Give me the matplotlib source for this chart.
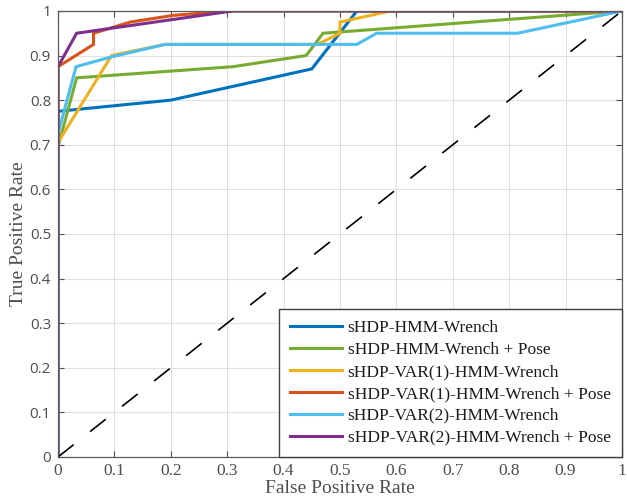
import numpy as np
from matplotlib import pyplot as plt

# ROC points (FPR, TPR)
fpr_hmm_w = [0, 0, 0.2, 0.45, 0.53, 1]
tpr_hmm_w = [0, 0.775, 0.8, 0.87, 1, 1]

fpr_hmm_wp = [0, 0, 0.033, 0.31, 0.44, 0.47, 1]
tpr_hmm_wp = [0, 0.695, 0.85, 0.875, 0.9, 0.95, 1]

fpr_var1_w = [0, 0, 0.095, 0.19, 0.46, 0.5, 0.5, 0.59, 1]
tpr_var1_w = [0, 0.705, 0.9, 0.925, 0.925, 0.95, 0.975, 1, 1]

fpr_var1_wp = [0, 0, 0.063, 0.063, 0.128, 0.204, 0.305, 1]
tpr_var1_wp = [0, 0.875, 0.925, 0.95, 0.975, 0.99, 1, 1]

fpr_var2_w = [0, 0, 0.032, 0.095, 0.19, 0.53, 0.565, 0.815, 1]
tpr_var2_w = [0, 0.725, 0.875, 0.897, 0.925, 0.925, 0.95, 0.95, 1]

fpr_var2_wp = [0, 0, 0.033, 0.31, 1]
tpr_var2_wp = [0, 0.875, 0.95, 1, 1]

labels = ['sHDP-HMM-Wrench', 'sHDP-HMM-Wrench + Pose', 'sHDP-VAR(1)-HMM-Wrench',
          'sHDP-VAR(1)-HMM-Wrench + Pose', 'sHDP-VAR(2)-HMM-Wrench',
          'sHDP-VAR(2)-HMM-Wrench + Pose']
colors = ['#0072BD', '#77AC30', '#EDB120', '#D95319', '#4DBEEE', '#7E2F8E']

curves = [(fpr_hmm_w, tpr_hmm_w), (fpr_hmm_wp, tpr_hmm_wp), (fpr_var1_w, tpr_var1_w),
          (fpr_var1_wp, tpr_var1_wp), (fpr_var2_w, tpr_var2_w), (fpr_var2_wp, tpr_var2_wp)]

serif = 'Liberation Serif'

fig = plt.figure(figsize=(6.27, 4.97), dpi=100)
ax = fig.add_axes([0.0925, 0.0805, 0.8995, 0.8975])

for (x, y), c, lab in zip(curves, colors, labels):
    ax.plot(x, y, color=c, lw=2.2, label=lab, solid_joinstyle='miter')

diag, = ax.plot([0, 1], [0, 1], color='black', lw=1.2)
diag.set_dashes((12, 12.5))

ax.set_xlim(0, 1)
ax.set_ylim(0, 1)
ticks = np.arange(0, 1.01, 0.1)
ax.set_xticks(ticks)
ax.set_yticks(ticks)
ax.set_xticklabels(['0', '0.1', '0.2', '0.3', '0.4', '0.5', '0.6', '0.7', '0.8', '0.9', '1'],
                   fontfamily=serif, fontsize=12.5, color='#4d4d4d')
ax.set_yticklabels(['0', '0.1', '0.2', '0.3', '0.4', '0.5', '0.6', '0.7', '0.8', '0.9', '1'],
                   fontfamily='Open Sans', fontsize=11, color='#4d4d4d')
ax.tick_params(direction='in', top=True, right=True, length=4.5, width=0.8, color='#4d4d4d')
ax.tick_params(axis='y', pad=5)
ax.tick_params(axis='x', pad=4)
ax.grid(True, color='#e0e0e0', lw=0.8)
ax.set_axisbelow(True)
for s in ax.spines.values():
    s.set_color('#5a5a5a')
    s.set_linewidth(0.9)

ax.set_xlabel('False Positive Rate', fontfamily=serif, fontsize=14, color='#4d4d4d', labelpad=1)
ax.set_ylabel('True Positive Rate', fontfamily=serif, fontsize=14, color='#4d4d4d', labelpad=2)

leg = ax.legend(loc='lower right', bbox_to_anchor=(1, 0), borderaxespad=0,
                prop={'family': serif, 'size': 12.5}, fancybox=False, framealpha=1,
                edgecolor='#404040', handlelength=3.0, handletextpad=0.3,
                labelspacing=0.33, borderpad=0.65)
leg.get_frame().set_linewidth(1.0)
for t in leg.get_texts():
    t.set_color('#1a1a1a')

fig.savefig('out.png', dpi=100)
